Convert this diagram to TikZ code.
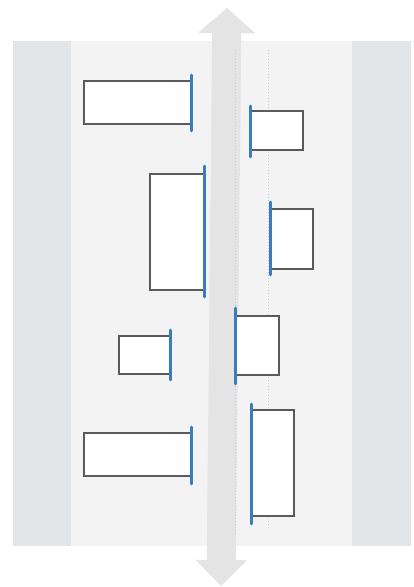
\documentclass[tikz,border=0pt]{standalone}
\usetikzlibrary{arrows.meta}
\definecolor{strip}{HTML}{E3E6E9}
\definecolor{mid}{HTML}{F3F3F4}
\definecolor{arr}{HTML}{E4E4E5}
\definecolor{boxline}{HTML}{5A5A5A}
\definecolor{blueedge}{HTML}{3B7CC0}
\definecolor{dots}{HTML}{C5CCD6}
\begin{document}
\begin{tikzpicture}[x=1pt,y=-1pt,
  panel/.style={fill=strip,draw=none},
  midpanel/.style={fill=mid,draw=none},
  blk/.style={draw=boxline,line width=1.8pt,fill=white,inner sep=0pt,anchor=north west},
  edge/.style={draw=blueedge,line width=3pt,line cap=round},
  guide/.style={draw=dots,line width=1pt,dotted}]
\useasboundingbox (0,0) rectangle (414,587);
\fill[white] (0,0) rectangle (414,587);
% background
\fill[panel] (13,41) rectangle (411,546);
\fill[midpanel] (71,41) rectangle (352,546);
% guide lines
\coordinate (g1t) at (235,50); \coordinate (g1b) at (235,535);
\coordinate (g2t) at (268,50); \coordinate (g2b) at (268,530);
% double arrow
\coordinate (at) at (227,8);
\coordinate (ab) at (221,586);
\draw[arr,line width=29pt,{Triangle[width=56pt,length=25pt]}-{Triangle[width=50pt,length=26pt]}] (at) -- (ab);
\draw[guide] (g1t) -- (g1b);
\draw[guide] (g2t) -- (g2b);
% left column boxes (blue right edge)
\node[blk,minimum width=107pt,minimum height=43pt] (r1) at (83,80) {};
\draw[edge] ([yshift=5pt]r1.north east) -- ([yshift=-6pt]r1.south east);
\node[blk,minimum width=54pt,minimum height=116pt] (r2) at (149,173) {};
\draw[edge] ([yshift=7pt]r2.north east) -- ([yshift=-6pt]r2.south east);
\node[blk,minimum width=51pt,minimum height=38pt] (r3) at (118,335) {};
\draw[edge] ([yshift=5pt]r3.north east) -- ([yshift=-5pt]r3.south east);
\node[blk,minimum width=107pt,minimum height=43pt] (r4) at (83,432) {};
\draw[edge] ([yshift=5pt]r4.north east) -- ([yshift=-7pt]r4.south east);
% right column boxes (blue left edge)
\node[blk,minimum width=52pt,minimum height=39pt] (r5) at (250,110) {};
\draw[edge] ([yshift=4pt]r5.north west) -- ([yshift=-6pt]r5.south west);
\node[blk,minimum width=42pt,minimum height=60pt] (r6) at (270,208) {};
\draw[edge] ([yshift=6pt]r6.north west) -- ([yshift=-5pt]r6.south west);
\node[blk,minimum width=43pt,minimum height=59pt] (r7) at (235,315) {};
\draw[edge] ([yshift=7pt]r7.north west) -- ([yshift=-8pt]r7.south west);
\node[blk,minimum width=42pt,minimum height=106pt] (r8) at (251,409) {};
\draw[edge] ([yshift=5pt]r8.north west) -- ([yshift=-7pt]r8.south west);
\end{tikzpicture}
\end{document}
